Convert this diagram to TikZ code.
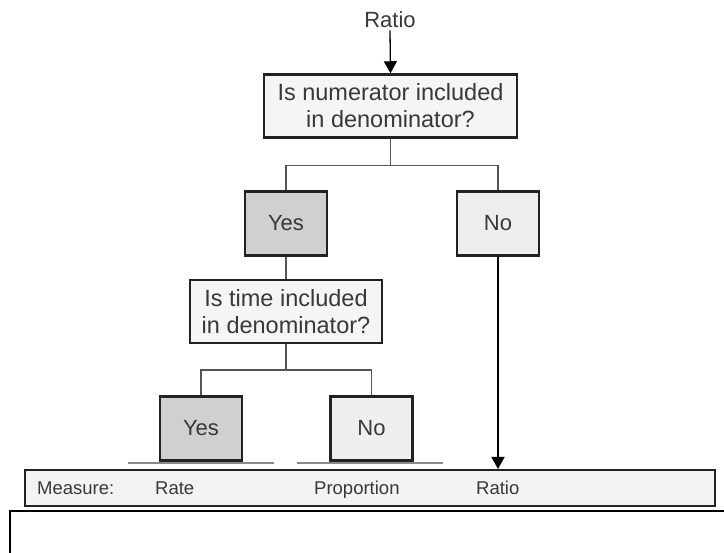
\documentclass[tikz,border=0pt]{standalone}
\usepackage{fontspec}
\setmainfont{Liberation Sans}
\usetikzlibrary{arrows.meta, positioning, calc}

\definecolor{boxline}{HTML}{222222}
\definecolor{textgray}{HTML}{383838}
\definecolor{qfill}{HTML}{F5F5F5}
\definecolor{yesfill}{HTML}{D0D0D0}
\definecolor{nofill}{HTML}{EEEEEE}
\definecolor{mfill}{HTML}{F3F3F3}
\definecolor{linkgray}{HTML}{555555}
\definecolor{shelfgray}{HTML}{8A8A8A}

\begin{document}
\begin{tikzpicture}[
  x=1pt, y=-1pt,
  % Define styles for different elements
  box/.style={draw=boxline, line width=2.5pt, align=center, inner sep=0pt, text=textgray, font=\fontsize{22}{27}\selectfont},
  questionbox/.style={box, fill=qfill, minimum height=63pt, font=\fontsize{23.5}{27}\selectfont},
  yesbox/.style={box, fill=yesfill, minimum width=82pt, minimum height=64pt},
  nobox/.style={box, fill=nofill, minimum width=82pt, minimum height=64pt},
  measurebox/.style={draw=boxline, line width=2pt, fill=mfill, minimum width=690pt, minimum height=36pt, inner sep=0pt},
  rowlabel/.style={text=textgray, font=\fontsize{18.5}{22}\selectfont, anchor=base west, inner sep=0pt},
  arrow/.style={-{Triangle[length=12pt, width=13pt]}, line width=1.3pt, draw=black},
  link/.style={line width=1.5pt, draw=linkgray},
  shelf/.style={line width=2pt, draw=shelfgray}
]
\clip (0,0) rectangle (724,553);

% Top: start of the decision
\node[text=textgray, font=\fontsize{22}{27}\selectfont, inner sep=2pt] (start) at (390,20) {Ratio};
\node[questionbox, minimum width=253pt] (numq) at (390.5,106) {Is numerator included\\in denominator?};

% First answer pair
\node[yesbox] (yes1) at (286,223.5) {Yes};
\node[nobox] (no1) at (498,223.5) {No};

% Second question and answers
\node[questionbox, minimum width=192pt] (timeq) at (286,311.5) {Is time included\\in denominator?};
\node[yesbox] (yes2) at (201,428.5) {Yes};
\node[nobox] (no2) at (371.5,428.5) {No};

% Shelves under the lower answers
\draw[shelf] ($(yes2.south)+(-73,1)$) -- ($(yes2.south)+(73,1)$);
\draw[shelf] ($(no2.south)+(-75,1)$) -- ($(no2.south)+(71,1)$);

% Measure row
\node[measurebox] (mbox) at (370,488) {};
\node[rowlabel] (measure) at (37,495) {Measure:};
\node[rowlabel] (rate) at (155,495) {Rate};
\node[rowlabel] (proportion) at (314,495) {Proportion};
\node[rowlabel] (ratio) at (476,495) {Ratio};

% Frame at the bottom edge
\draw[line width=2.5pt] (10,511) rectangle (760,600);

% Connectors
\draw[arrow] (start.south) -- (numq.north);

\coordinate (split1) at ($(numq.south)+(0,27)$);
\draw[link] (numq.south) -- (split1) -| (yes1.north);
\draw[link] (split1) -| (no1.north);
\draw[link] (yes1.south) -- (timeq.north);

\coordinate (split2) at ($(timeq.south)+(0,26)$);
\draw[link] (timeq.south) -- (split2) -| (yes2.north);
\draw[link] (split2) -| (no2.north);

\draw[arrow] (no1.south) -- (no1.south |- mbox.north);

\end{tikzpicture}
\end{document}
